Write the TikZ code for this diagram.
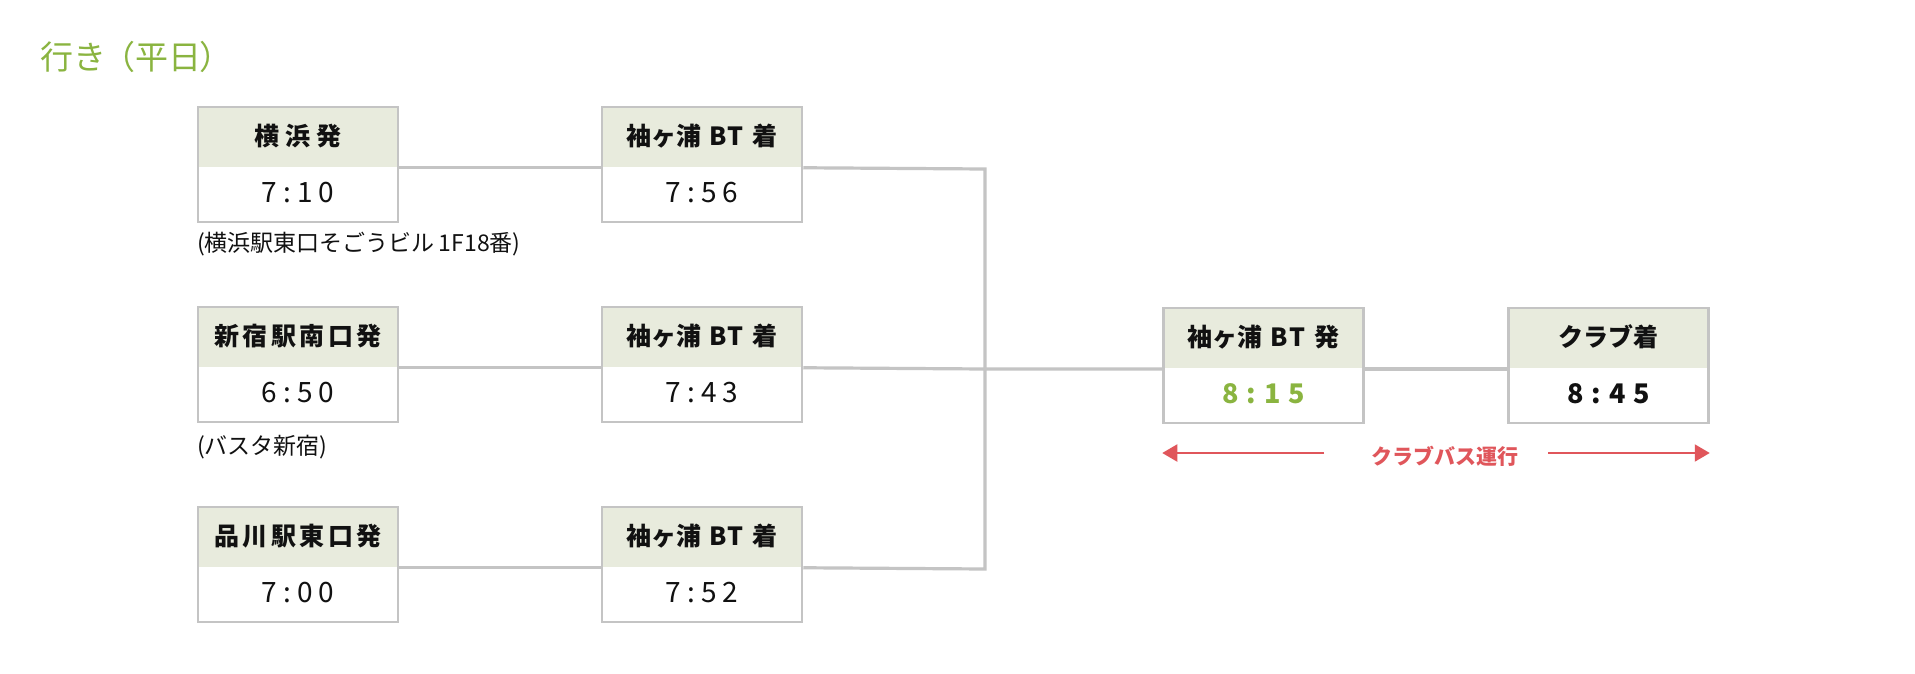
\documentclass[tikz,border=0pt]{standalone}
\usepackage{fontspec}
\setmainfont{Noto Sans CJK JP}
\usetikzlibrary{arrows.meta}
\definecolor{bordergray}{HTML}{C4C4C4}
\definecolor{hdrfill}{HTML}{E8EBDD}
\definecolor{accentgreen}{HTML}{8AB440}
\definecolor{busred}{HTML}{E0565B}
\definecolor{inkblack}{HTML}{111111}
\newcommand{\gp}[1]{\hspace{#1pt}}
\tikzset{
  box/.style={draw=bordergray, line width=2.5pt, minimum width=200pt, minimum height=115pt,
    inner sep=0pt, fill=white,
    path picture={\fill[hdrfill] (path picture bounding box.north west) rectangle ([yshift=-60pt]path picture bounding box.north east);}},
  hdr/.style={font=\fontsize{25}{25}\selectfont\bfseries, text=inkblack, inner sep=0pt, anchor=center},
  tm/.style={font=\fontsize{28}{28}\selectfont, text=inkblack, inner sep=0pt, anchor=center},
  tmb/.style={font=\fontsize{27}{27}\selectfont\bfseries, inner sep=0pt, anchor=center},
  note/.style={font=\fontsize{23}{23}\selectfont, text=inkblack, inner sep=0pt, anchor=west},
  conn/.style={draw=bordergray, line width=3.2pt, line join=miter},
  busarrow/.style={draw=busred, line width=2pt, -{Triangle[length=15pt,width=17pt]}},
}
\begin{document}
\begin{tikzpicture}[x=1pt,y=-1pt]
\useasboundingbox[fill=white] (0,0) rectangle (1915,673);
% title
\node[anchor=west, inner sep=0pt, text=accentgreen, font=\fontsize{33}{33}\selectfont] (title) at (40,57) {行き\gp{-4}（平日\gp{-2}）};
% boxes
\node[box] (a1) at (298,164.5) {};
\node[box] (a2) at (298,364.5) {};
\node[box] (a3) at (298,564.5) {};
\node[box] (b1) at (702,164.5) {};
\node[box] (b2) at (702,364.5) {};
\node[box] (b3) at (702,564.5) {};
\node[box] (c1) at (1263.5,365.5) {};
\node[box] (c2) at (1608.5,365.5) {};
% header texts
\node[hdr] (a1h) at ([yshift=-30pt]a1.north) {横\gp{6}浜\gp{6}発};
\node[hdr] (a2h) at ([yshift=-30pt]a2.north) {新\gp{3.5}宿\gp{3.5}駅\gp{3.5}南\gp{3.5}口\gp{3.5}発};
\node[hdr] (a3h) at ([yshift=-30pt]a3.north) {品\gp{3.5}川\gp{3.5}駅\gp{3.5}東\gp{3.5}口\gp{3.5}発};
\node[hdr] (b1h) at ([yshift=-30pt]b1.north) {袖ヶ浦\gp{8}B\gp{1}T\gp{9}着};
\node[hdr] (b2h) at ([yshift=-30pt]b2.north) {袖ヶ浦\gp{8}B\gp{1}T\gp{9}着};
\node[hdr] (b3h) at ([yshift=-30pt]b3.north) {袖ヶ浦\gp{8}B\gp{1}T\gp{9}着};
\node[hdr] (c1h) at ([yshift=-30pt]c1.north) {袖ヶ浦\gp{8}B\gp{1}T\gp{9}発};
\node[hdr] (c2h) at ([yshift=-30pt]c2.north) {クラブ着};
% times
\node[tm] (a1t) at ([yshift=-87pt]a1.north) {7\gp{6}:\gp{6}1\gp{6}0};
\node[tm] (a2t) at ([yshift=-87pt]a2.north) {6\gp{6}:\gp{6}5\gp{6}0};
\node[tm] (a3t) at ([yshift=-87pt]a3.north) {7\gp{6}:\gp{6}0\gp{6}0};
\node[tm] (b1t) at ([yshift=-87pt]b1.north) {7\gp{6}:\gp{6}5\gp{6}6};
\node[tm] (b2t) at ([yshift=-87pt]b2.north) {7\gp{6}:\gp{6}4\gp{6}3};
\node[tm] (b3t) at ([yshift=-87pt]b3.north) {7\gp{6}:\gp{6}5\gp{6}2};
\node[tmb, text=accentgreen] (c1t) at ([yshift=-87pt]c1.north) {8\gp{8}:\gp{8}1\gp{8}5};
\node[tmb, text=inkblack] (c2t) at ([yshift=-87pt]c2.north) {8\gp{8}:\gp{8}4\gp{8}5};
% notes
\node[note] (n1) at (197,244) {(横浜駅東口そごうビル\gp{4}1F18番)};
\node[note] (n2) at (197,447) {(バスタ新宿)};
% connectors
\coordinate (jtop) at (985,169);
\coordinate (jmid) at (985,369);
\coordinate (jbot) at (985,569);
\draw[conn] ([yshift=-62pt]a1.north east) -- ([yshift=-62pt]b1.north west);
\draw[conn] ([yshift=-62pt]a2.north east) -- ([yshift=-62pt]b2.north west);
\draw[conn] ([yshift=-62pt]a3.north east) -- ([yshift=-62pt]b3.north west);
\draw[conn] ([yshift=-62pt]b1.north east) -- (jtop) -- (jbot) -- ([yshift=-62pt]b3.north east);
\draw[conn] ([yshift=-62pt]b2.north east) -- (jmid) -- (c1.west |- jmid);
\draw[conn] (c1.east |- jmid) -- (c2.west |- jmid);
% bus note
\node[inner sep=0pt, text=busred, font=\fontsize{21}{21}\selectfont\bfseries] (bus) at (1445,456) {クラブバス運行};
\coordinate (la) at (1324,453);
\coordinate (ra) at (1548,453);
\draw[busarrow] (la) -- (c1.west |- la);
\draw[busarrow] (ra) -- (c2.east |- ra);
\end{tikzpicture}
\end{document}
